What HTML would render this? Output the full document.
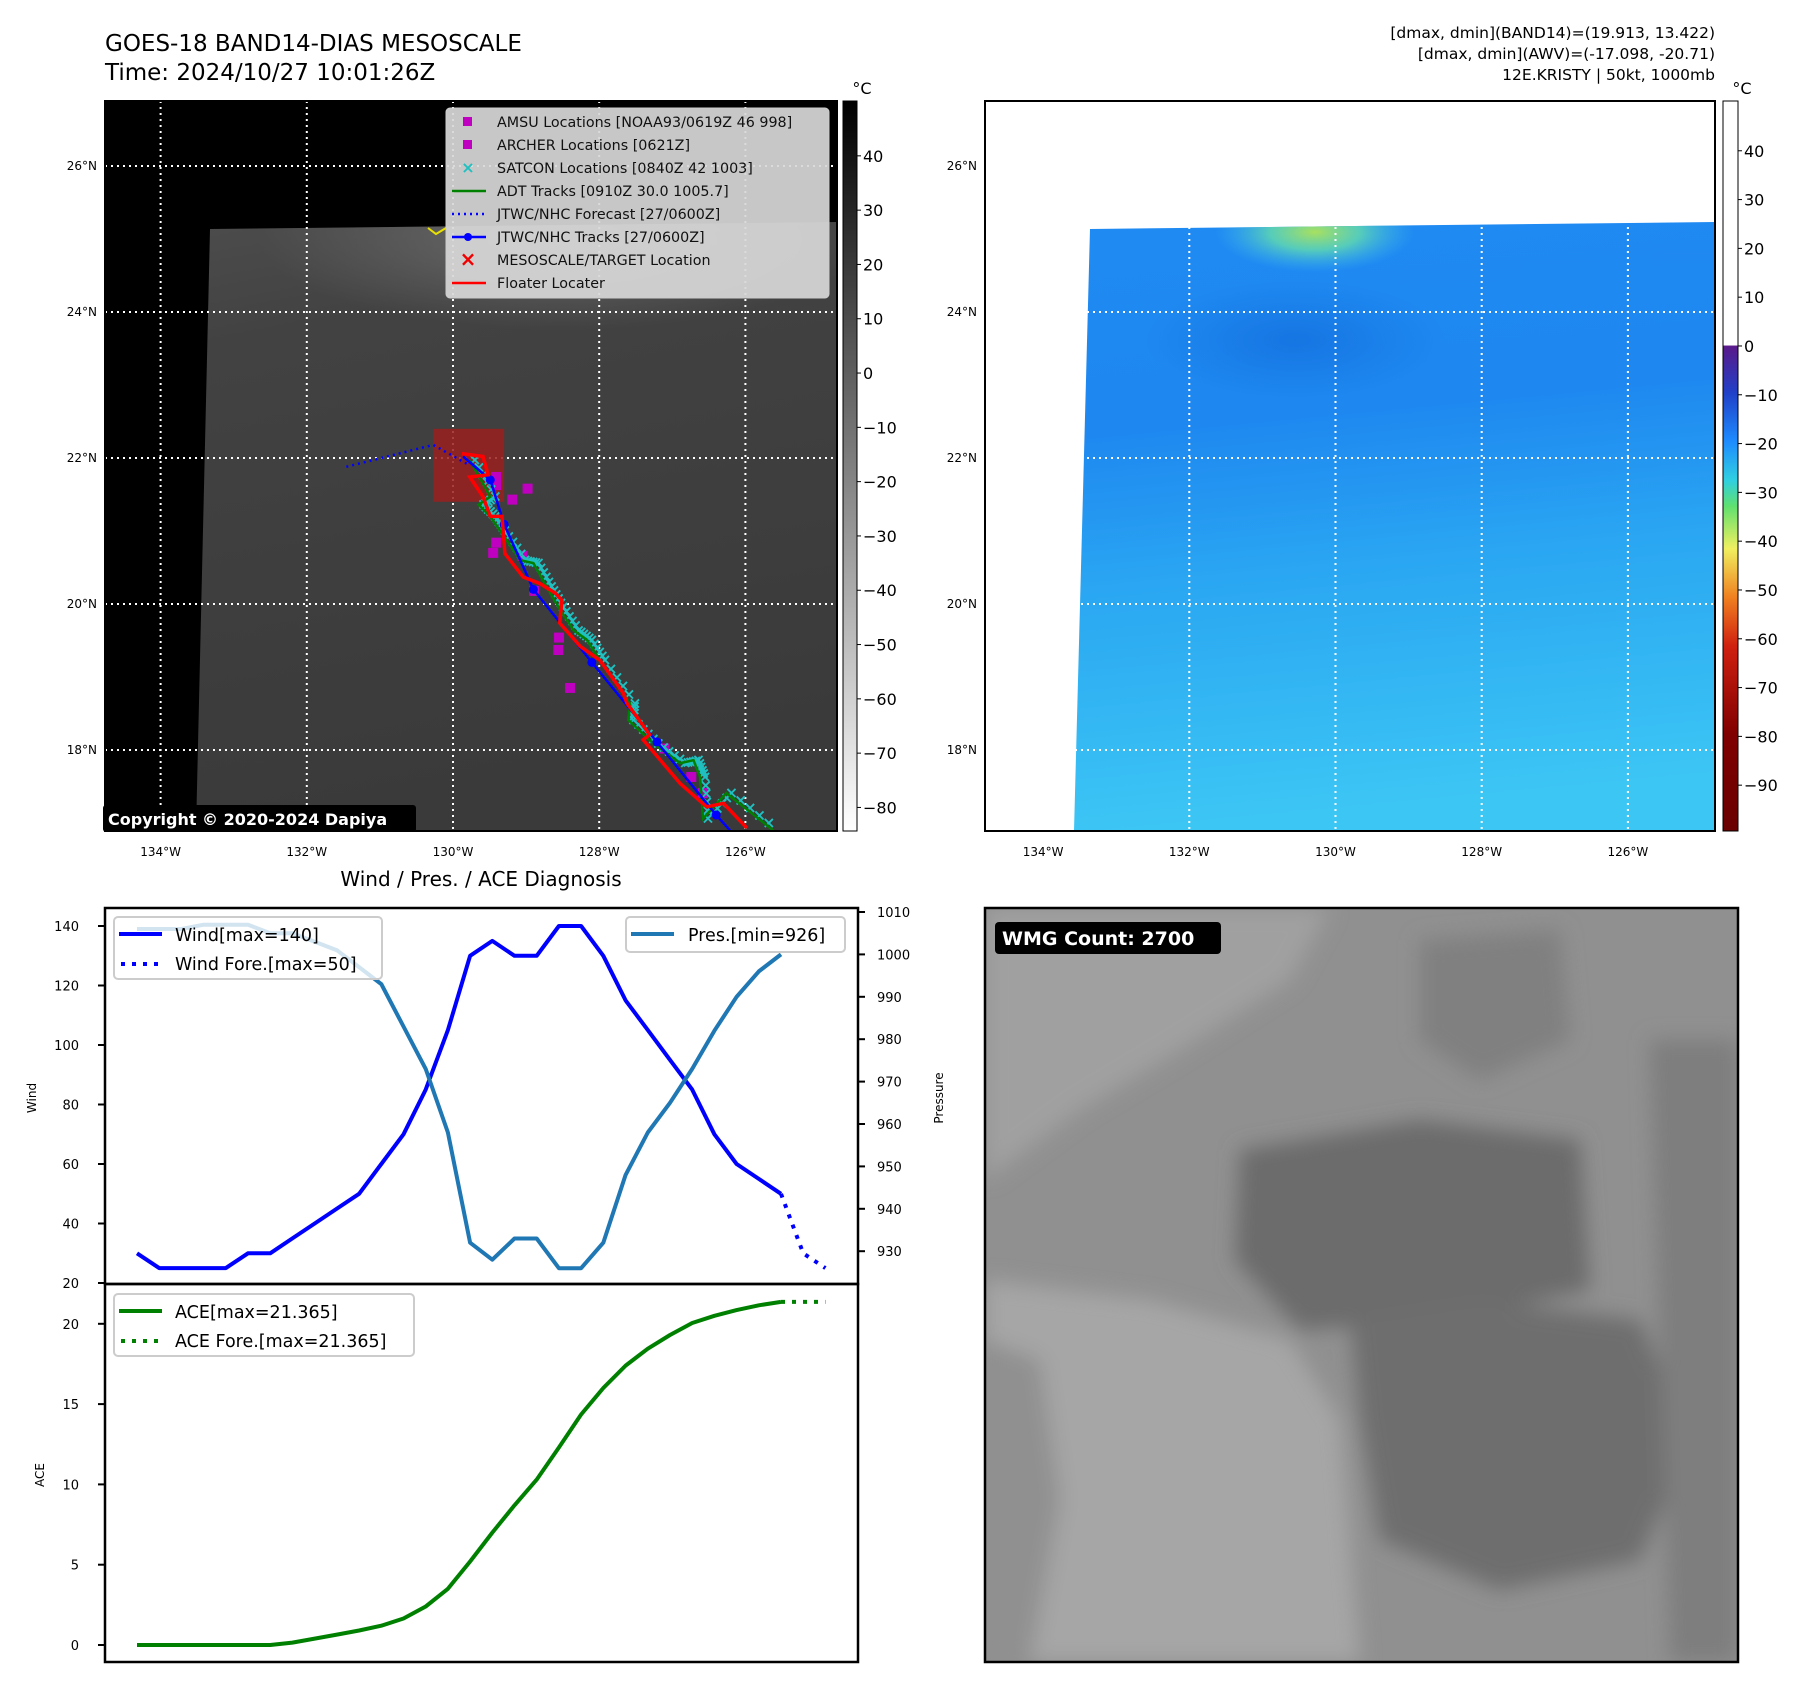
<!DOCTYPE html>
<html><head><meta charset="utf-8"><style>
html,body{margin:0;padding:0;background:#fff}
svg{display:block;font-family:"DejaVu Sans","Liberation Sans",sans-serif}
</style></head><body>
<svg id="fig" width="1797" height="1690" viewBox="0 0 1797 1690" xmlns="http://www.w3.org/2000/svg">
<defs>
<linearGradient id="cbGray" x1="0" y1="0" x2="0" y2="1"><stop offset="0" stop-color="#000"/><stop offset="1" stop-color="#fff"/></linearGradient>
<linearGradient id="cbColor" x1="0" y1="0" x2="0" y2="1">
<stop offset="0" stop-color="#fff"/><stop offset="0.334" stop-color="#fff"/><stop offset="0.336" stop-color="#5a1a8a"/>
<stop offset="0.40" stop-color="#2040c8"/><stop offset="0.467" stop-color="#1e8cff"/><stop offset="0.52" stop-color="#30d0e0"/>
<stop offset="0.555" stop-color="#60e070"/><stop offset="0.613" stop-color="#f0f060"/><stop offset="0.68" stop-color="#f08020"/>
<stop offset="0.747" stop-color="#d02010"/><stop offset="0.867" stop-color="#800000"/><stop offset="1" stop-color="#6a0000"/></linearGradient>
<linearGradient id="irGray" x1="0" y1="0" x2="0.2" y2="1"><stop offset="0" stop-color="#4c4c4c"/><stop offset="0.2" stop-color="#424242"/><stop offset="1" stop-color="#3a3a3a"/></linearGradient>
<linearGradient id="awvBlue" x1="0" y1="0" x2="0.1" y2="1"><stop offset="0" stop-color="#1f8af2"/><stop offset="0.35" stop-color="#1e88f0"/><stop offset="0.6" stop-color="#2aa6f2"/><stop offset="1" stop-color="#3cc6f4"/></linearGradient>
<radialGradient id="awvGreen" cx="0.5" cy="0.5" r="0.5"><stop offset="0" stop-color="#a8e060"/><stop offset="0.45" stop-color="#60d8b0" stop-opacity="0.85"/><stop offset="1" stop-color="#40b8f0" stop-opacity="0"/></radialGradient>
<radialGradient id="darkBlob" cx="0.5" cy="0.5" r="0.5"><stop offset="0" stop-color="#1068d8" stop-opacity="0.6"/><stop offset="1" stop-color="#1068d8" stop-opacity="0"/></radialGradient>
<radialGradient id="lightTop" cx="0.5" cy="0.5" r="0.5"><stop offset="0" stop-color="#7a7a7a" stop-opacity="0.7"/><stop offset="1" stop-color="#7a7a7a" stop-opacity="0"/></radialGradient>
<filter id="blur8" x="-20%" y="-20%" width="140%" height="140%"><feGaussianBlur stdDeviation="10"/></filter>
<clipPath id="clipL"><rect x="105" y="101" width="732" height="730"/></clipPath>
<clipPath id="clipIR"><polygon points="210,229 837,222 837,831 196,831"/></clipPath>
<clipPath id="clipAWV"><polygon points="1090,229 1715,222 1715,831 1074,831"/></clipPath>
<clipPath id="clipR"><rect x="985" y="101" width="730" height="730"/></clipPath>
<clipPath id="clipBR"><rect x="985" y="908" width="753" height="754"/></clipPath>
<clipPath id="clipW"><rect x="105" y="908" width="753" height="376"/></clipPath>
</defs>
<g id="root"></g>
</svg>
<script>
// ---------- chart data ----------
const windObs = [30,25,25,25,25,30,30,35,40,45,50,60,70,85,105,130,135,130,130,140,140,130,115,105,95,85,70,60,55,50];
const windFore = [50,30,25];
const presObs = [1006,1006,1006,1007,1007,1007,1005,1005,1003,1001,997,993,983,973,958,932,928,933,933,926,926,932,948,958,965,973,982,990,996,1000];
const aceObs = [0,0,0,0,0,0,0,0.15,0.4,0.65,0.9,1.2,1.65,2.4,3.5,5.2,7.0,8.7,10.3,12.3,14.35,16.0,17.4,18.45,19.3,20.05,20.5,20.85,21.15,21.365];
const aceFore = [21.365,21.365,21.365];
const windTicks = [20,40,60,80,100,120,140];
const presTicks = [930,940,950,960,970,980,990,1000,1010];
const aceTicks = [0,5,10,15,20];
// ---------- map data (lon W, lat N) ----------
const lonTicks = [134,132,130,128,126];
const latTicks = [26,24,22,20,18];
const floaterTrack = [[129.88,22.06],[129.59,22.02],[129.52,21.77],[129.77,21.74],[129.59,21.47],[129.49,21.20],[129.33,21.20],[129.29,20.69],[129.04,20.37],[128.81,20.28],[128.60,20.15],[128.51,20.05],[128.54,19.74],[128.26,19.42],[127.99,19.23],[127.67,18.78],[127.62,18.64],[127.31,18.21],[127.40,18.14],[126.89,17.54],[126.53,17.22],[126.30,17.27],[125.98,16.93]];
const jtwcTrack = [[129.86,22.02],[129.49,21.70],[129.30,21.09],[128.90,20.20],[128.10,19.20],[127.21,18.11],[126.40,17.11],[126.21,16.90]];
const jtwcForecast = [[131.46,21.88],[130.27,22.18],[129.81,21.92]];
const adtTrack = [[129.77,21.97],[129.49,21.47],[129.65,21.36],[129.49,21.20],[129.36,21.01],[129.08,20.60],[128.90,20.56],[128.72,20.24],[128.56,19.96],[128.35,19.64],[128.17,19.51],[127.99,19.23],[127.58,18.64],[127.60,18.41],[127.26,18.09],[126.89,17.82],[126.71,17.86],[126.62,17.63],[126.58,17.06],[126.26,17.41],[125.62,16.90]];
const amsuPts = [[129.41,21.74],[129.41,21.63],[128.98,21.58],[129.19,21.43],[129.41,20.84],[129.45,20.70],[129.05,20.66],[128.89,20.18],[128.55,19.54],[128.56,19.37],[128.40,18.85],[127.11,18.02],[126.74,17.63],[126.58,17.41]];
const targetBox = [130.27,22.40,129.30,21.40];

const NS = "http://www.w3.org/2000/svg";
const root = document.getElementById('root');
function mk(tag, attrs, parent){ const e=document.createElementNS(NS,tag); for(const k in attrs) e.setAttribute(k,attrs[k]); (parent||root).appendChild(e); return e; }
function txt(s, attrs, parent){ const e=mk('text',attrs,parent); e.textContent=s; return e; }

const lonXL = lon => 453 - (lon-130)*73.1;
const lonXR = lon => 1335.5 - (lon-130)*73.1;
const latY = lat => 458 - (lat-22)*73.0;

let t = txt('GOES-18 BAND14-DIAS MESOSCALE',{x:105,y:51,'font-size':23,fill:'#000'});
 
t = txt('Time: 2024/10/27 10:01:26Z',{x:105,y:80,'font-size':23,fill:'#000'});
 
const infoLines = ['[dmax, dmin](BAND14)=(19.913, 13.422)','[dmax, dmin](AWV)=(-17.098, -20.71)','12E.KRISTY | 50kt, 1000mb'];
infoLines.forEach((s,i)=>{ const e=txt(s,{x:1715,y:38+i*21,'font-size':15.5,'text-anchor':'end',fill:'#000'});
  });

// ---- left map ----
const gL = mk('g',{'clip-path':'url(#clipL)'});
 
mk('rect',{x:105,y:101,width:732,height:730,fill:'#000'},gL);
mk('polygon',{points:'210,229 837,222 837,831 196,831',fill:'url(#irGray)'},gL);
const gIR = mk('g',{'clip-path':'url(#clipIR)'},gL);
mk('ellipse',{cx:560,cy:240,rx:300,ry:90,fill:'url(#lightTop)'},gIR);
mk('polyline',{points:'428,228 436,234 446,228',fill:'none',stroke:'#e8e000','stroke-width':2},gL);
function grid(g, lonX, x0, x1){
  lonTicks.forEach(l=>mk('line',{x1:lonX(l),x2:lonX(l),y1:101,y2:831,stroke:'#fff','stroke-width':2,'stroke-dasharray':'2,4'},g));
  latTicks.forEach(l=>mk('line',{x1:x0,x2:x1,y1:latY(l),y2:latY(l),stroke:'#fff','stroke-width':2,'stroke-dasharray':'2,4'},g));
}
grid(gL, lonXL, 105, 837);
mk('rect',{x:lonXL(targetBox[0]),y:latY(targetBox[1]),width:lonXL(targetBox[2])-lonXL(targetBox[0]),height:latY(targetBox[3])-latY(targetBox[1]),fill:'#9a2020','fill-opacity':0.85},gL);
const pts = (arr,fx)=>arr.map(p=>fx(p[0]).toFixed(1)+','+latY(p[1]).toFixed(1)).join(' ');
let e;
e = mk('polyline',{points:pts(jtwcForecast,lonXL),fill:'none',stroke:'#0000ff','stroke-width':2.5,'stroke-dasharray':'2,4'},gL);
 
amsuPts.forEach(p=>{ const m=mk('rect',{x:lonXL(p[0])-5,y:latY(p[1])-5,width:10,height:10,fill:'#c000c0'},gL);
  });
for(let i=0;i<adtTrack.length-1;i++){
  const a=adtTrack[i], b=adtTrack[i+1];
  for(let k=0;k<5;k++){ const f=k/5; const x=lonXL(a[0]+(b[0]-a[0])*f)+5, y=latY(a[1]+(b[1]-a[1])*f);
    const m=txt('×',{x:x,y:y+5,'font-size':16,'font-weight':'bold','text-anchor':'middle',fill:'#20c0c0'},gL);
      }
}
e = mk('polyline',{points:pts(adtTrack,lonXL),fill:'none',stroke:'#008000','stroke-width':2.5},gL);
 
e = mk('polyline',{points:pts(jtwcTrack,lonXL),fill:'none',stroke:'#0000ff','stroke-width':2.5},gL);
 
jtwcTrack.slice(1,7).forEach(p=>{ const c=mk('circle',{cx:lonXL(p[0]),cy:latY(p[1]),r:4.5,fill:'#0000ff'},gL);
  });
e = mk('polyline',{points:pts(floaterTrack,lonXL),fill:'none',stroke:'#ff0000','stroke-width':3.5},gL);
 
const lg = mk('g',{});  
mk('rect',{x:446,y:108,width:383,height:190,rx:4,fill:'#d8d8d8','fill-opacity':0.92,stroke:'#ccc'},lg);
const legItems = ['AMSU Locations [NOAA93/0619Z 46 998]','ARCHER Locations [0621Z]','SATCON Locations [0840Z 42 1003]','ADT Tracks [0910Z 30.0 1005.7]','JTWC/NHC Forecast [27/0600Z]','JTWC/NHC Tracks [27/0600Z]','MESOSCALE/TARGET Location','Floater Locater'];
legItems.forEach((s,i)=>{ const y=122+i*23;
  const tt=txt(s,{x:497,y:y+5,'font-size':14.3,fill:'#111'},lg);
   
  if(i<2) mk('rect',{x:463,y:y-5,width:9,height:9,fill:'#c000c0'},lg);
  if(i==2) txt('×',{x:468,y:y+5,'font-size':16,'font-weight':'bold','text-anchor':'middle',fill:'#20c0c0'},lg);
  if(i==3) mk('line',{x1:452,x2:486,y1:y,y2:y,stroke:'#008000','stroke-width':2.5},lg);
  if(i==4) mk('line',{x1:452,x2:486,y1:y,y2:y,stroke:'#0000ff','stroke-width':2.5,'stroke-dasharray':'2,4'},lg);
  if(i==5){ mk('line',{x1:452,x2:486,y1:y,y2:y,stroke:'#0000ff','stroke-width':2.5},lg); mk('circle',{cx:468,cy:y,r:4,fill:'#0000ff'},lg); }
  if(i==6) txt('×',{x:468,y:y+6,'font-size':20,'font-weight':'bold','text-anchor':'middle',fill:'#f00000'},lg);
  if(i==7) mk('line',{x1:452,x2:486,y1:y,y2:y,stroke:'#ff0000','stroke-width':2.5},lg);
});
e = mk('rect',{x:103,y:805,width:313,height:27,rx:3,fill:'#000'});  
e = txt('Copyright © 2020-2024 Dapiya',{x:108,y:825,'font-size':16,'font-weight':'bold',fill:'#fff'});  
mk('rect',{x:105,y:101,width:732,height:730,fill:'none',stroke:'#000','stroke-width':2});

function mapTicks(lonX, x0){
  lonTicks.forEach(l=>{ const e=txt(l+'°W',{x:lonX(l),y:856,'font-size':12,'text-anchor':'middle',fill:'#000'});
      });
  latTicks.forEach(l=>{ const e=txt(l+'°N',{x:x0-8,y:latY(l)+4,'font-size':12,'text-anchor':'end',fill:'#000'});
      });
}
mapTicks(lonXL,105);

const cbL = v => 101 + (50.1 - v)*5.43;
e = mk('rect',{x:843,y:101,width:14,height:730,fill:'url(#cbGray)',stroke:'#000','stroke-width':1});  
[40,30,20,10,0,-10,-20,-30,-40,-50,-60,-70,-80].forEach(v=>{ mk('line',{x1:857,x2:861,y1:cbL(v),y2:cbL(v),stroke:'#000'});
  const e=txt(String(v).replace('-','−'),{x:863,y:cbL(v)+6,'font-size':16,fill:'#000'});   });
txt('°C',{x:862,y:94,'font-size':16,'text-anchor':'middle',fill:'#000'});

// ---- right map ----
const gR = mk('g',{'clip-path':'url(#clipR)'});
 
mk('rect',{x:985,y:101,width:730,height:730,fill:'#fff'},gR);
mk('polygon',{points:'1090,229 1715,222 1715,831 1074,831',fill:'url(#awvBlue)'},gR);
const gAW = mk('g',{'clip-path':'url(#clipAWV)'},gR);
mk('ellipse',{cx:1295,cy:340,rx:150,ry:60,fill:'url(#darkBlob)'},gAW);
mk('ellipse',{cx:1315,cy:232,rx:100,ry:40,fill:'url(#awvGreen)'},gAW);
grid(gR, lonXR, 985, 1715);
mk('rect',{x:985,y:101,width:730,height:730,fill:'none',stroke:'#000','stroke-width':2});
mapTicks(lonXR,985);
const cbR = v => 101 + (50.2 - v)*4.88;
e = mk('rect',{x:1723,y:101,width:15,height:730,fill:'url(#cbColor)',stroke:'#000','stroke-width':1});  
[40,30,20,10,0,-10,-20,-30,-40,-50,-60,-70,-80,-90].forEach(v=>{ mk('line',{x1:1738,x2:1742,y1:cbR(v),y2:cbR(v),stroke:'#000'});
  const e=txt(String(v).replace('-','−'),{x:1744,y:cbR(v)+6,'font-size':16,fill:'#000'});   });
txt('°C',{x:1742,y:94,'font-size':16,'text-anchor':'middle',fill:'#000'});

// ---- bottom-right WMG panel ----
const gB = mk('g',{'clip-path':'url(#clipBR)'});
 
mk('rect',{x:985,y:908,width:753,height:754,fill:'#909090'},gB);
const gBb = mk('g',{filter:'url(#blur8)'},gB);
mk('polygon',{points:'985,908 1330,908 1290,980 1180,1050 1080,1110 985,1180',fill:'#a0a0a0'},gBb);
mk('polygon',{points:'985,1280 1150,1300 1290,1340 1340,1420 1360,1662 985,1662',fill:'#a6a6a6'},gBb);
mk('polygon',{points:'985,1340 1040,1360 1060,1500 1030,1662 985,1662',fill:'#909090'},gBb);
mk('polygon',{points:'1240,1150 1420,1120 1580,1140 1590,1290 1440,1320 1300,1330 1235,1260',fill:'#6c6c6c'},gBb);
mk('polygon',{points:'1350,1320 1480,1300 1640,1320 1690,1440 1640,1560 1500,1590 1380,1540 1360,1420',fill:'#6e6e6e'},gBb);
mk('polygon',{points:'1420,940 1560,930 1570,1040 1480,1080 1420,1040',fill:'#808080'},gBb);
mk('polygon',{points:'1650,1040 1738,1040 1738,1662 1670,1662',fill:'#7e7e7e'},gBb);
mk('rect',{x:985,y:908,width:753,height:754,fill:'none',stroke:'#000','stroke-width':2.5});
e = mk('rect',{x:995,y:922,width:226,height:32,rx:4,fill:'#000'});  
e = txt('WMG Count: 2700',{x:1002,y:945,'font-size':19,'font-weight':'bold',fill:'#fff'});  

// ---- wind / pressure / ACE chart ----
const X0=137, X1=781, N=windObs.length;
const xS = i => X0 + i*(X1-X0)/(N-1);
const yWind = w => 1283 - (w-20)/20*59.5;
const yPres = p => 912 + (1010-p)*4.24;
const yAce = a => 1645 - a*16.06;
const line = (vals, fx, fy, off) => vals.map((v,i)=>fx(i+off).toFixed(1)+','+fy(v).toFixed(1)).join(' ');

e = txt('Wind / Pres. / ACE Diagnosis',{x:481,y:886,'font-size':20,'text-anchor':'middle',fill:'#000'});  
const gW = mk('g',{'clip-path':'url(#clipW)'});  
e = mk('polyline',{points:line(windObs,xS,yWind,0),fill:'none',stroke:'#0000ff','stroke-width':4,'stroke-linejoin':'round'},gW);
 
e = mk('polyline',{points:line(windFore,xS,yWind,N-1),fill:'none',stroke:'#0000ff','stroke-width':4,'stroke-dasharray':'4,7'},gW);
 
const wl = mk('g',{});  
mk('rect',{x:114,y:917,width:268,height:62,rx:4,fill:'#fff','fill-opacity':0.8,stroke:'#ccc','stroke-width':2},wl);
mk('line',{x1:119,x2:162,y1:934,y2:934,stroke:'#0000ff','stroke-width':4},wl);
mk('line',{x1:121,x2:162,y1:964,y2:964,stroke:'#0000ff','stroke-width':4,'stroke-dasharray':'4,7'},wl);
txt('Wind[max=140]',{x:175,y:941,'font-size':17.5,fill:'#000'},wl);
txt('Wind Fore.[max=50]',{x:175,y:970,'font-size':17.5,fill:'#000'},wl);
e = mk('polyline',{points:line(presObs,xS,yPres,0),fill:'none',stroke:'#1f77b4','stroke-width':4,'stroke-linejoin':'round'},gW);
 
const pl = mk('g',{});  
mk('rect',{x:626,y:917,width:219,height:35,rx:4,fill:'#fff','fill-opacity':0.8,stroke:'#ccc','stroke-width':2},pl);
mk('line',{x1:631,x2:674,y1:934,y2:934,stroke:'#1f77b4','stroke-width':4},pl);
txt('Pres.[min=926]',{x:688,y:941,'font-size':17.5,fill:'#000'},pl);
mk('rect',{x:105,y:908,width:753,height:376,fill:'none',stroke:'#000','stroke-width':2.5});
windTicks.forEach(v=>{ mk('line',{x1:98,x2:105,y1:yWind(v),y2:yWind(v),stroke:'#000','stroke-width':2});
  const e=txt(String(v),{x:79,y:yWind(v)+5,'font-size':13,'text-anchor':'end',fill:'#000'});   });
presTicks.forEach(v=>{ mk('line',{x1:858,x2:865,y1:yPres(v),y2:yPres(v),stroke:'#000','stroke-width':2});
  const e=txt(String(v),{x:877,y:yPres(v)+5,'font-size':13,fill:'#000'});   });
e = txt('Wind',{x:0,y:0,'font-size':12,'text-anchor':'middle',fill:'#000',transform:'translate(36,1098) rotate(-90)'});  
e = txt('Pressure',{x:0,y:0,'font-size':12,'text-anchor':'middle',fill:'#000',transform:'translate(943,1098) rotate(-90)'});  

e = mk('polyline',{points:line(aceObs,xS,yAce,0),fill:'none',stroke:'#008000','stroke-width':4,'stroke-linejoin':'round'});
 
e = mk('polyline',{points:line(aceFore,xS,yAce,N-1),fill:'none',stroke:'#008000','stroke-width':4,'stroke-dasharray':'4,7'});
 
const al = mk('g',{});  
mk('rect',{x:114,y:1294,width:300,height:62,rx:4,fill:'#fff','fill-opacity':0.8,stroke:'#ccc','stroke-width':2},al);
mk('line',{x1:119,x2:162,y1:1311,y2:1311,stroke:'#008000','stroke-width':4},al);
mk('line',{x1:121,x2:162,y1:1341,y2:1341,stroke:'#008000','stroke-width':4,'stroke-dasharray':'4,7'},al);
txt('ACE[max=21.365]',{x:175,y:1318,'font-size':17.5,fill:'#000'},al);
txt('ACE Fore.[max=21.365]',{x:175,y:1347,'font-size':17.5,fill:'#000'},al);
mk('rect',{x:105,y:1284,width:753,height:378,fill:'none',stroke:'#000','stroke-width':2.5});
aceTicks.forEach(v=>{ mk('line',{x1:98,x2:105,y1:yAce(v),y2:yAce(v),stroke:'#000','stroke-width':2});
  const e=txt(String(v),{x:79,y:yAce(v)+5,'font-size':13,'text-anchor':'end',fill:'#000'});   });
e = txt('ACE',{x:0,y:0,'font-size':12,'text-anchor':'middle',fill:'#000',transform:'translate(44,1475) rotate(-90)'});  
</script>
</body></html>
